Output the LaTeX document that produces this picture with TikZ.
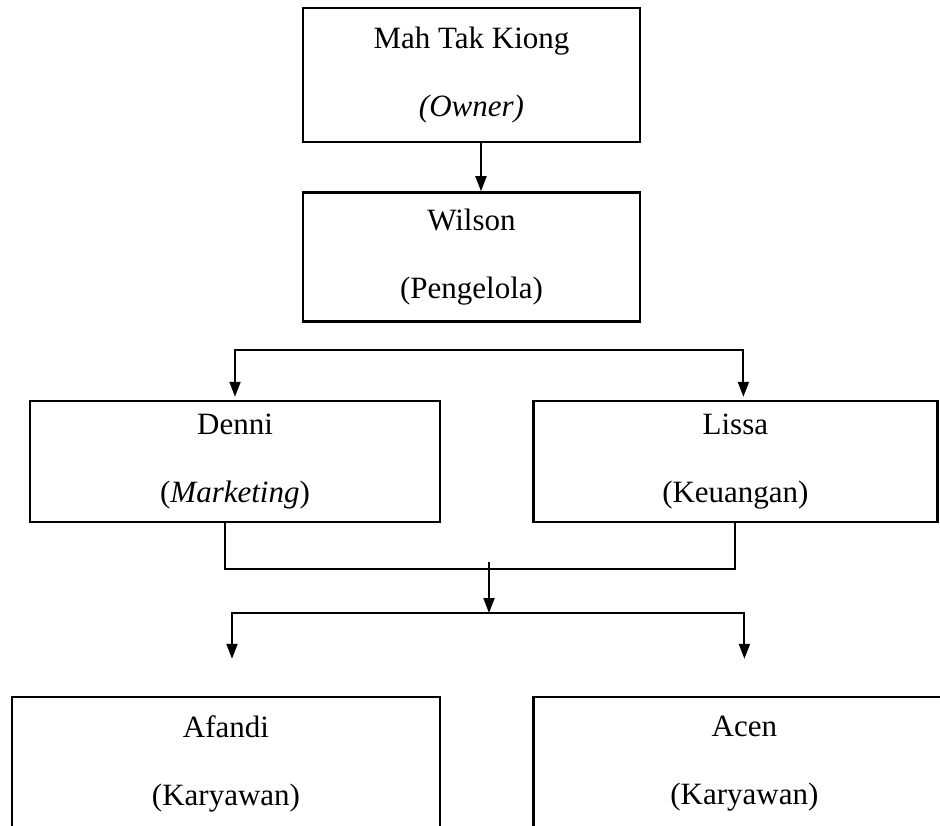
\documentclass[tikz,border=0pt]{standalone}
\usepackage{fontspec}
\setmainfont{Liberation Serif}
\usepackage{tikz}
\usetikzlibrary{arrows.meta, positioning, calc}

\begin{document}
\begin{tikzpicture}[
    x=1pt, y=-1pt,
    every node/.style={font=\fontsize{31}{68}\selectfont},
    box/.style={
        rectangle,
        draw=black,
        line width=2.4pt,
        align=center,
        inner sep=0pt
    },
    myarrow/.style={
        -{Triangle[length=15pt,width=11pt]},
        line width=2pt,
        draw=black
    },
    myline/.style={
        line width=2pt,
        draw=black
    }
]
\useasboundingbox (0,0) rectangle (940,825);

% Row 1 and 2: owner and manager
\node[box, minimum width=337pt, minimum height=134pt] (owner) at (471.5,75) {Mah Tak Kiong\\\textit{(Owner)}};
\node[box, minimum width=337pt, minimum height=129pt, below=48pt of owner] (wilson) {Wilson\\(Pengelola)};

% Row 3: marketing and finance
\node[box, minimum width=410pt, minimum height=121pt] (denni) at (235,461.5) {Denni\\(\textit{Marketing})};
\node[box, minimum width=404pt, minimum height=121pt, right=91pt of denni] (lissa) {Lissa\\(Keuangan)};

% Row 4: employees
\node[box, minimum width=428pt, minimum height=134pt] (afandi) at (226,764) {Afandi\\(Karyawan)};
\node[box, minimum width=422pt, minimum height=134pt, right=91pt of afandi] (acen) {Acen\\(Karyawan)};

% Branch points
\coordinate (bus1) at (489,350);
\coordinate (drop) at (489,562);
\coordinate (bus2) at (489,613);

% Arrows - owner to manager
\draw[myarrow] ([xshift=9.5pt]owner.south) -- ([xshift=9.5pt]wilson.north);

% Arrows - manager split
\draw[myarrow, shorten >=3pt] (bus1) -| (denni.north);
\draw[myarrow, shorten >=3pt] (bus1) -| ([xshift=8pt]lissa.north);

% Join below row 3
\draw[myline] ([xshift=-10pt]denni.south) -- ++(0,46) -| (lissa.south);
\draw[myarrow] (drop) -- (bus2);

% Arrows - employee split
\draw[myarrow, shorten >=37pt] (bus2) -| ([xshift=6pt]afandi.north);
\draw[myarrow, shorten >=37pt] (bus2) -| (acen.north);

\end{tikzpicture}
\end{document}
